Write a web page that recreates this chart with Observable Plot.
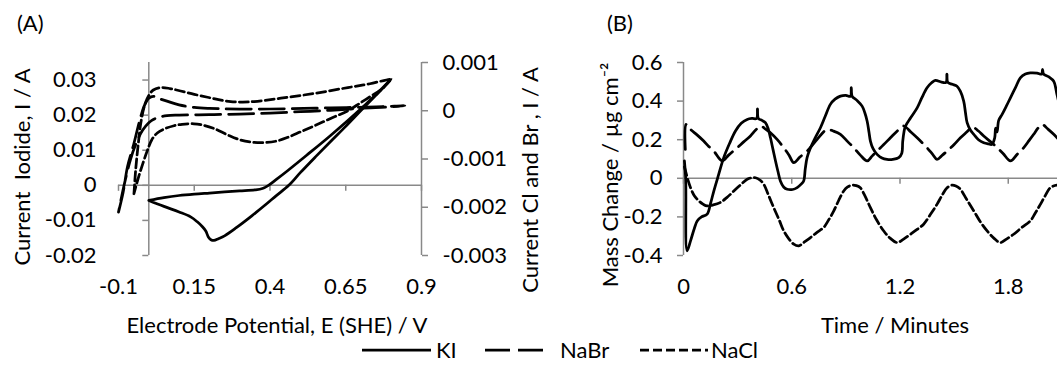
<!DOCTYPE html>
<html><head><meta charset="utf-8">
<script src="https://cdn.jsdelivr.net/npm/d3@7"></script>
<script src="https://cdn.jsdelivr.net/npm/@observablehq/plot@0.6"></script>
<style>
body{margin:0;background:#fff;}
#wrap{position:relative;width:1057px;height:366px;overflow:hidden;font-family:Lato,sans-serif;color:#000;background:#fff;}
#wrap svg text{white-space:pre;}
.panel{position:absolute;top:0;}
</style></head><body><div id="wrap"></div>
<script>
// ---------- Panel A : cyclic voltammograms ----------
const potentialDomain = [-0.1, 0.9];
const potentialTicks = [-0.1, 0.15, 0.4, 0.65, 0.9];
const iodideDomain = [-0.02, 0.035];
const iodideTicks = [-0.02, -0.01, 0, 0.01, 0.02, 0.03];
const clbrDomain = [-0.003, 0.001];
const clbrTicks = [-0.003, -0.002, -0.001, 0, 0.001];

// KI (left axis) : [E, I]
const kiCV = [
  [0.0,-0.0043],[0.05,-0.0035],[0.10,-0.0029],[0.15,-0.0025],[0.20,-0.0022],[0.25,-0.0019],
  [0.30,-0.0016],[0.35,-0.0013],[0.375,-0.0009],[0.395,0.0],[0.42,0.0016],[0.46,0.0043],
  [0.52,0.0085],[0.60,0.0142],[0.70,0.0218],[0.80,0.0302],
  [0.75,0.0257],[0.70,0.0213],[0.65,0.0168],[0.60,0.0125],[0.55,0.0081],[0.50,0.0036],
  [0.462,0.0],[0.42,-0.0030],[0.39,-0.0052],[0.34,-0.0087],[0.29,-0.0120],[0.25,-0.0144],
  [0.23,-0.0152],[0.215,-0.0157],[0.205,-0.0155],[0.197,-0.0148],[0.188,-0.0130],
  [0.177,-0.0118],[0.16,-0.0104],[0.138,-0.0090],[0.10,-0.0076],[0.05,-0.0060],[0.0,-0.0043]
];
// NaBr (right axis) : [E, I]
const nabrCV = [
  [-0.1,-0.0021],[-0.085,-0.0017],[-0.07,-0.00115],[-0.05,-0.0007],[-0.03,-0.0002],[-0.015,0.0001],
  [0.0,0.00026],[0.015,0.0003],[0.03,0.00026],[0.06,0.0002],[0.1,0.00012],[0.15,0.00007],
  [0.2,0.00005],[0.3,0.000035],[0.45,0.00004],[0.6,0.00006],[0.75,0.00008],[0.845,0.000104],
  [0.8,0.00008],[0.7,0.00005],[0.6,0.00001],[0.5,-0.00002],[0.4,-0.00005],[0.3,-0.00007],
  [0.2,-0.00008],[0.1,-0.00009],[0.06,-0.0001],[0.03,-0.00014],[0.01,-0.0002],[0.0,-0.00025],
  [-0.02,-0.0004],[-0.04,-0.00065],[-0.06,-0.001],[-0.08,-0.0015],[-0.1,-0.0021]
];
// NaCl (right axis) : [E, I]
const naclCV = [
  [-0.049,-0.00172],[-0.043,-0.0012],[-0.035,-0.0007],[-0.025,-0.0002],[-0.012,0.00015],
  [0.0,0.00032],[0.015,0.00043],[0.039,0.00048],[0.07,0.00046],[0.105,0.00041],[0.15,0.00034],
  [0.194,0.00028],[0.23,0.00023],[0.27,0.00019],[0.31,0.00018],[0.348,0.00019],[0.436,0.00026],
  [0.547,0.00036],[0.657,0.00048],[0.73,0.00056],[0.80,0.00065],
  [0.79,0.00059],[0.77,0.00045],[0.745,0.00035],[0.70,0.00017],[0.657,0.0],[0.60,-0.00016],
  [0.547,-0.00031],[0.50,-0.00044],[0.459,-0.00055],[0.42,-0.00063],[0.38,-0.00066],
  [0.34,-0.00065],[0.30,-0.0006],[0.26,-0.0005],[0.216,-0.00037],[0.18,-0.0003],[0.149,-0.00027],
  [0.11,-0.00028],[0.083,-0.00031],[0.05,-0.00038],[0.028,-0.00046],[0.01,-0.0006],
  [-0.005,-0.00083],[-0.02,-0.0011],[-0.035,-0.0014],[-0.049,-0.00172]
];

// ---------- Panel B : mass change ----------
const timeDomain = [0, 2.4];
const timeTicks = [0, 0.6, 1.2, 1.8, 2.4];
const timeLabels = [0, 0.6, 1.2, 1.8];
const massDomain = [-0.4, 0.6];
const massTicks = [-0.4, -0.2, 0, 0.2, 0.4, 0.6];

const kiMass = [
  [0.005,0.09],[0.012,0.0],[0.02,-0.376],[0.039,-0.324],[0.06,-0.26],[0.076,-0.221],[0.1,-0.2],
  [0.131,-0.186],[0.15,-0.13],[0.168,-0.066],[0.195,0.02],[0.223,0.107],[0.255,0.18],[0.288,0.245],
  [0.32,0.285],[0.353,0.305],[0.38,0.31],[0.405,0.31],[0.41,0.36],[0.415,0.31],[0.435,0.30],
  [0.454,0.288],[0.47,0.255],[0.482,0.21],[0.496,0.15],[0.51,0.09],[0.525,0.03],[0.537,-0.014],
  [0.555,-0.045],[0.575,-0.057],[0.605,-0.058],[0.63,-0.048],[0.652,-0.03],[0.666,-0.014],
  [0.675,0.05],[0.685,0.107],[0.704,0.158],[0.73,0.21],[0.759,0.262],[0.785,0.32],[0.814,0.383],
  [0.84,0.41],[0.87,0.426],[0.9,0.43],[0.925,0.425],[0.93,0.47],[0.935,0.425],[0.96,0.405],
  [0.99,0.374],[1.005,0.34],[1.018,0.296],[1.028,0.24],[1.036,0.193],[1.05,0.155],[1.073,0.124],
  [1.1,0.105],[1.128,0.098],[1.16,0.098],[1.193,0.107],[1.21,0.13],[1.215,0.19],[1.222,0.24],
  [1.23,0.27],[1.26,0.315],[1.295,0.365],[1.32,0.415],[1.35,0.469],[1.375,0.495],[1.396,0.507],
  [1.43,0.498],[1.455,0.497],[1.46,0.54],[1.465,0.497],[1.49,0.487],[1.516,0.477],[1.535,0.45],
  [1.553,0.40],[1.563,0.34],[1.572,0.288],[1.59,0.25],[1.609,0.228],[1.635,0.2],[1.664,0.184],
  [1.69,0.178],[1.71,0.176],[1.725,0.21],[1.73,0.26],[1.738,0.24],[1.747,0.3],[1.766,0.331],
  [1.79,0.375],[1.812,0.417],[1.84,0.47],[1.867,0.52],[1.895,0.54],[1.922,0.546],[1.96,0.545],
  [1.985,0.54],[1.99,0.565],[1.996,0.54],[2.025,0.525],[2.052,0.503],[2.07,0.434],[2.09,0.36],
  [2.11,0.3]
];
const nabrMass = [
  [0.01,0.15],[0.015,0.28],[0.039,0.253],[0.075,0.225],[0.112,0.193],[0.14,0.165],[0.168,0.141],
  [0.214,0.09],[0.25,0.12],[0.297,0.158],[0.335,0.19],[0.371,0.219],[0.4,0.25],[0.427,0.271],
  [0.455,0.255],[0.482,0.236],[0.52,0.2],[0.556,0.158],[0.585,0.12],[0.611,0.081],[0.645,0.11],
  [0.685,0.141],[0.741,0.202],[0.796,0.253],[0.83,0.245],[0.87,0.228],[0.91,0.19],[0.944,0.158],
  [0.98,0.12],[1.018,0.09],[1.045,0.115],[1.073,0.141],[1.11,0.175],[1.147,0.21],[1.185,0.245],
  [1.22,0.271],[1.26,0.24],[1.295,0.21],[1.35,0.158],[1.38,0.125],[1.405,0.098],[1.435,0.12],
  [1.461,0.141],[1.5,0.175],[1.535,0.21],[1.57,0.24],[1.6,0.265],[1.635,0.245],[1.664,0.219],
  [1.719,0.176],[1.77,0.13],[1.812,0.09],[1.85,0.125],[1.885,0.158],[1.915,0.195],[1.941,0.228],
  [1.965,0.26],[1.987,0.279],[2.02,0.255],[2.052,0.228],[2.09,0.19],[2.12,0.16]
];
const naclMass = [
  [0.005,0.06],[0.011,0.038],[0.025,-0.01],[0.039,-0.049],[0.06,-0.09],[0.085,-0.117],[0.11,-0.135],
  [0.131,-0.143],[0.165,-0.138],[0.203,-0.126],[0.24,-0.1],[0.279,-0.066],[0.315,-0.035],
  [0.353,-0.005],[0.38,0.003],[0.399,0.003],[0.425,-0.01],[0.445,-0.031],[0.47,-0.085],[0.5,-0.152],
  [0.53,-0.215],[0.556,-0.273],[0.585,-0.315],[0.611,-0.341],[0.639,-0.35],[0.67,-0.33],
  [0.704,-0.307],[0.74,-0.28],[0.777,-0.255],[0.805,-0.215],[0.833,-0.169],[0.86,-0.115],
  [0.888,-0.066],[0.91,-0.045],[0.935,-0.035],[0.958,-0.038],[0.98,-0.049],[1.005,-0.09],
  [1.036,-0.152],[1.07,-0.215],[1.11,-0.273],[1.145,-0.31],[1.184,-0.333],[1.22,-0.315],
  [1.258,-0.29],[1.295,-0.265],[1.331,-0.238],[1.37,-0.185],[1.405,-0.135],[1.435,-0.085],
  [1.461,-0.049],[1.489,-0.035],[1.51,-0.04],[1.535,-0.057],[1.57,-0.11],[1.609,-0.169],
  [1.645,-0.225],[1.683,-0.273],[1.72,-0.31],[1.756,-0.333],[1.79,-0.315],[1.83,-0.29],
  [1.875,-0.255],[1.922,-0.221],[1.95,-0.18],[1.978,-0.135],[2.005,-0.09],[2.033,-0.049],
  [2.07,-0.035],[2.1,-0.04]
];

// ---------- text ----------
const panelLabels = ["(A)", "(B)"];
const titleA_x = "Electrode Potential, E (SHE) / V";
const titleA_yLeft = "Current  Iodide, I / A";
const titleA_yRight = "Current Cl and Br , I / A";
const titleB_x = "Time / Minutes";
const titleB_y = "Mass Change / µg cm⁻²";
const seriesNames = ["KI", "NaBr", "NaCl"];

// ---------- styles ----------
const FONT = "Lato, 'Open Sans', sans-serif";
const FS = 22;
const AX = "#898989";
const AXW = 1.5;
const LW = 2.75;
const dashes = {KI: null, NaBr: "25,8", NaCl: "9,4"};
const fmt = d => String(d);
const svgStyle = {fontFamily: FONT, fontSize: FS + "px", background: "transparent", color: "black", overflow: "visible"};

const wrap = document.getElementById("wrap");
function place(node, left) {
  node.classList.add("panel");
  node.style.left = left + "px";
  wrap.appendChild(node);
}
const lineOpts = (name) => ({x: d => d[0], y: d => d[1], curve: "catmull-rom", stroke: "black",
  strokeWidth: LW, strokeDasharray: dashes[name], strokeLinejoin: "round"});
const titleOpts = (extra) => ({text: d => d, textAnchor: "middle", lineAnchor: "middle", fill: "black", ...extra});

const dimA = {width: 560, height: 300, marginLeft: 118, marginRight: 139, marginTop: 62, marginBottom: 45};

const plotA1 = Plot.plot({
  ...dimA, style: svgStyle,
  x: {domain: potentialDomain},
  y: {domain: iodideDomain},
  marks: [
    Plot.ruleY([0], {stroke: AX, strokeWidth: AXW}),
    Plot.ruleX(potentialTicks, {x: d => d, y1: 0, y2: 0, insetBottom: -6, stroke: AX, strokeWidth: AXW}),
    Plot.ruleX([0], {stroke: AX, strokeWidth: AXW}),
    Plot.ruleY(iodideTicks, {y: d => d, x1: 0, x2: 0, insetLeft: -6, stroke: AX, strokeWidth: AXW}),
    Plot.axisX(potentialTicks, {tickSize: 0, tickPadding: 23, tickFormat: fmt, fill: "black", label: null}),
    Plot.axisY(iodideTicks, {tickSize: 0, tickPadding: 22, tickFormat: fmt, fill: "black", label: null}),
    Plot.line(kiCV, lineOpts("KI")),
    Plot.text([titleA_x], titleOpts({frameAnchor: "bottom", dx: 7, dy: 70})),
    Plot.text([titleA_yLeft], titleOpts({frameAnchor: "left", dx: -96, dy: 8, rotate: -90}))
  ]
});
place(plotA1, 0);

const plotA2 = Plot.plot({
  ...dimA, style: svgStyle,
  x: {domain: potentialDomain, axis: null},
  y: {domain: clbrDomain, axis: null},
  marks: [
    Plot.ruleX([potentialDomain[1]], {stroke: AX, strokeWidth: AXW}),
    Plot.axisY(clbrTicks, {anchor: "right", tickSize: 6, tickPadding: 15, tickFormat: fmt, stroke: AX, strokeWidth: AXW, fill: "black", label: null}),
    Plot.line(nabrCV, lineOpts("NaBr")),
    Plot.line(naclCV, lineOpts("NaCl")),
    Plot.text([titleA_yRight], titleOpts({frameAnchor: "right", dx: 109, dy: 21, rotate: -90}))
  ]
});
place(plotA2, 0);

const plotB = Plot.plot({
  width: 576, height: 300, marginLeft: 123, marginRight: 20, marginTop: 62, marginBottom: 45,
  style: svgStyle,
  x: {domain: timeDomain},
  y: {domain: massDomain},
  marks: [
    Plot.ruleY([0], {stroke: AX, strokeWidth: AXW}),
    Plot.ruleX(timeTicks, {x: d => d, y1: 0, y2: 0, insetBottom: -6, stroke: AX, strokeWidth: AXW}),
    Plot.ruleX([0], {stroke: AX, strokeWidth: AXW}),
    Plot.axisY(massTicks, {tickSize: 6, tickPadding: 15, tickFormat: fmt, stroke: AX, strokeWidth: AXW, fill: "black", label: null}),
    Plot.axisX(timeLabels, {tickSize: 0, tickPadding: 23, tickFormat: fmt, fill: "black", label: null}),
    Plot.line(kiMass, lineOpts("KI")),
    Plot.line(nabrMass, lineOpts("NaBr")),
    Plot.line(naclMass, lineOpts("NaCl")),
    Plot.text([titleB_x], titleOpts({frameAnchor: "bottom", dx: -5, dy: 70})),
    Plot.text([titleB_y], titleOpts({frameAnchor: "left", dx: -73, dy: 16, rotate: -90}))
  ]
});
place(plotB, 560);

// ---------- overlay: panel letters and legend ----------
const ov = d3.select(wrap).append("svg")
  .attr("width", 1057).attr("height", 366)
  .style("position", "absolute").style("left", 0).style("top", 0)
  .style("font-family", FONT).style("font-size", FS + "px");
ov.append("text").attr("x", 17).attr("y", 31).text(panelLabels[0]);
ov.append("text").attr("x", 607).attr("y", 31).text(panelLabels[1]);
const legendItems = [
  {name: seriesNames[0], x1: 362, x2: 431, tx: 436},
  {name: seriesNames[1], x1: 485, x2: 545, tx: 560},
  {name: seriesNames[2], x1: 640, x2: 708, tx: 711}
];
const ly = 350;
for (const it of legendItems) {
  ov.append("line").attr("x1", it.x1).attr("x2", it.x2).attr("y1", ly).attr("y2", ly)
    .attr("stroke", "black").attr("stroke-width", LW)
    .attr("stroke-dasharray", dashes[it.name]);
  ov.append("text").attr("x", it.tx).attr("y", ly + 8).text(it.name);
}
</script>
</body></html>
